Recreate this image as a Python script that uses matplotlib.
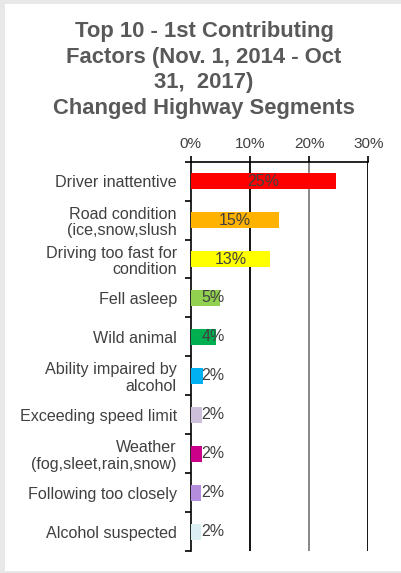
import matplotlib
matplotlib.use("Agg")
import matplotlib.pyplot as plt
from matplotlib.patches import Rectangle
import numpy as np

plt.rcParams['font.family'] = ['Liberation Sans', 'DejaVu Sans']

# data
factors = ["Driver inattentive", "Road condition\n(ice,snow,slush",
           "Driving too fast for\ncondition", "Fell asleep", "Wild animal",
           "Ability impaired by\nalcohol", "Exceeding speed limit",
           "Weather\n(fog,sleet,rain,snow)", "Following too closely",
           "Alcohol suspected"]
shares = [24.6, 14.9, 13.4, 4.9, 4.2, 2.1, 1.9, 1.9, 1.8, 1.8]
value_labels = ["25%", "15%", "13%", "5%", "4%", "2%", "2%", "2%", "2%", "2%"]
bar_colors = ["#FF0000", "#FFB300", "#FFFF00", "#92D050", "#00B050",
              "#00B0F0", "#CCC0DA", "#CC0088", "#B48EDC", "#DAEEF3"]
x_ticks = [0, 10, 20, 30]
x_tick_labels = ["0%", "10%", "20%", "30%"]

TXT = "#404040"

fig = plt.figure(figsize=(4.01, 5.73), dpi=100, facecolor="#E8E8E8")
fig.patches.append(Rectangle((5/401, 2/573), 1 - 5/401, 1 - 6/573,
                             transform=fig.transFigure, facecolor="white",
                             edgecolor="none", zorder=-5))

fig.text(204/401, 1 - 70/573,
         "Top 10 - 1st Contributing\nFactors (Nov. 1, 2014 - Oct\n31,  2017)\nChanged Highway Segments",
         ha="center", va="center", fontsize=15.8, fontweight="bold",
         color="#595959", linespacing=1.3)

ax = fig.add_axes([190.7/401, 1 - 551/573, (368.3 - 190.7)/401, (551 - 161.7)/573])
ax.set_facecolor("none")

y = np.arange(len(factors))
ax.barh(y, shares, height=0.41, color=bar_colors, zorder=3)

for yi, v, lab in zip(y, shares, value_labels):
    ax.text(max(v/2, 3.8), yi, lab, ha="center", va="center",
            fontsize=11.5, color=TXT, zorder=4)

ax.set_xlim(0, 30)
ax.set_ylim(len(factors) - 0.5, -0.5)

ax.xaxis.tick_top()
ax.set_xticks(x_ticks)
ax.set_xticklabels(x_tick_labels, fontsize=11, color=TXT)
ax.tick_params(axis="x", length=4, width=1.2, pad=4, color="black", direction="out")

ax.set_yticks(y)
ax.set_yticklabels(factors, fontsize=11.6, color=TXT, linespacing=1.15)
ax.tick_params(axis="y", which="major", length=0, pad=10)
ax.set_yticks(np.arange(len(factors) + 1) - 0.5, minor=True)
ax.tick_params(axis="y", which="minor", length=4, width=1.2, color="black")

for s in ["right", "bottom"]:
    ax.spines[s].set_visible(False)
for s in ["top", "left"]:
    ax.spines[s].set_linewidth(1.2)
    ax.spines[s].set_color("black")

for xv in x_ticks[1:]:
    ax.axvline(xv, color="#7F7F7F" if xv == 20 else "black", lw=1.3, zorder=1)

fig.savefig("out.png", dpi=100, facecolor=fig.get_facecolor())
